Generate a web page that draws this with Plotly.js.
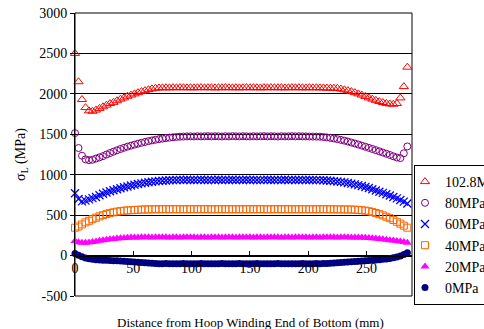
<!DOCTYPE html>
<html>
<head>
<meta charset="utf-8">
<script src="https://cdn.plot.ly/plotly-3.0.1.min.js"></script>
<style>html,body{margin:0;padding:0;background:#fff;}</style>
</head>
<body>
<div id="chart" style="width:484px;height:329px;"></div>
<script>
// Distance from hoop winding end of bottom (mm)
const distance = [0,3,6,9,12,15,18,21,24,27,30,33,36,39,42,45,48,51,54,57,60,63,66,69,72,75,78,81,84,87,90,93,96,99,102,105,108,111,114,117,120,123,126,129,132,135,138,141,144,147,150,153,156,159,162,165,168,171,174,177,180,183,186,189,192,195,198,201,204,207,210,213,216,219,222,225,228,231,234,237,240,243,246,249,252,255,258,261,264,267,270,273,276,279,282,285];

const seriesNames = ["102.8MPa","80MPa","60MPa","40MPa","20MPa","0MPa"];

const s102_8 = [2500,2150,1930,1830,1790,1785,1800,1820,1840,1860,1880,1895,1915,1935,1950,1970,1985,2000,2015,2028,2040,2052,2062,2070,2073,
2075,2076,2074,2077,2075,2078,2076,2075,2077,2074,2076,2078,2075,2077,2076,2074,2077,2075,2078,2076,
2075,2077,2074,2076,2078,2075,2077,2076,2074,2077,2075,2078,2076,2075,2077,2074,2076,2078,2075,2077,
2076,2074,2077,2075,2076,2074,2073,2072,2071,2070,
2068,2060,2050,2040,2028,2015,2000,1985,1968,1950,1935,1920,1905,1893,1882,1875,1872,1880,1950,2090,2330];

const s80 = [1515,1330,1235,1190,1180,1185,1200,1215,1230,1250,1268,1285,1302,1318,1333,1347,1360,1372,1384,1395,1405,1415,1424,1432,1440,1447,1453,1458,1463,1467,1470,
1472,1474,1475,1473,1476,1474,1475,1477,1474,1476,1475,1473,1476,1474,1477,1475,1474,1476,1475,1473,
1476,1474,1475,1477,1474,1476,1475,1473,1476,1474,1475,1477,1474,1476,1475,1474,1473,1472,1471,
1470,1466,1461,1455,1448,1440,1431,1421,1410,1398,1386,1373,1360,1346,1332,1318,1303,1289,1274,1259,1244,1228,1213,1205,1265,1350];

const s60 = [770,700,670,680,695,710,725,745,765,780,795,808,820,832,845,855,866,876,885,893,900,907,913,918,922,926,929,932,
933,935,936,934,937,935,934,936,938,935,934,936,935,937,934,936,935,938,934,936,
935,937,934,936,935,933,936,938,935,934,936,935,937,934,936,935,934,936,935,934,934,933,
933,931,928,925,921,916,911,905,898,890,881,871,860,848,835,820,805,790,775,759,742,725,707,688,667,645];

const s40 = [345,360,385,410,430,450,468,485,500,513,525,535,543,550,555,558,561,564,566,568,570,
571,572,573,572,574,573,572,573,574,572,573,572,574,573,572,573,574,572,573,572,
574,573,572,573,574,572,573,572,574,573,572,573,574,572,573,572,574,573,572,573,
574,572,573,572,574,573,572,573,572,574,573,572,573,572,571,571,570,
570,569,567,565,561,556,548,538,526,512,497,480,462,440,418,395,370,345];

const s20 = [180,165,158,158,162,168,175,182,190,196,201,206,210,214,217,220,222,224,
225,226,227,226,225,227,226,228,226,225,227,226,225,227,226,228,226,225,227,226,
225,227,226,228,225,226,227,226,225,227,226,228,226,225,227,226,225,227,226,228,
226,225,227,226,225,227,226,228,226,225,227,226,225,227,226,228,226,225,227,226,226,225,
225,224,222,220,217,214,210,206,201,196,191,186,180,174,167,158];

const s0 = [25,5,-15,-30,-40,-47,-52,-55,-57,-59,-61,-63,-65,-67,-69,-72,-75,-78,-82,-86,-90,-93,-96,-98,
-100,-101,-99,-100,-102,-100,-101,-99,-100,-102,-101,-100,-99,-101,-100,-102,-100,-101,-99,-100,
-102,-100,-101,-99,-100,-101,-102,-100,-99,-101,-100,-102,-100,-101,-99,-100,-101,-100,-102,-100,
-101,-99,-100,-101,-100,-99,-100,-99,
-98,-95,-92,-89,-86,-83,-80,-77,-74,-71,-68,-65,-62,-59,-55,-51,-46,-41,-35,-28,-18,-5,12,35];

const xTickVals = [0,50,100,150,200,250];
const xTickLabels = ["0","50","100","150","200","250"];
const yTickVals = [-500,0,500,1000,1500,2000,2500,3000];
const yTickLabels = ["-500","0","500","1000","1500","2000","2500","3000"];

const FONT = "Liberation Serif";

const styles = [
  {symbol:"triangle-up-open", color:"#FF0000", size:8, lw:1},
  {symbol:"circle-open", color:"#800080", size:7, lw:1},
  {symbol:"x-thin-open", color:"#0000FF", size:8, lw:1.3},
  {symbol:"square-open", color:"#FF6600", size:7, lw:1},
  {symbol:"triangle-up", color:"#FF00FF", size:8, lw:0},
  {symbol:"circle", color:"#000080", size:7, lw:0}
];
const values = [s102_8, s80, s60, s40, s20, s0];

const traces = values.map((v, k) => ({
  x: distance, y: v, name: seriesNames[k], type: "scatter", mode: "markers",
  cliponaxis: false, legendgroup: "g" + k,
  marker: {symbol: styles[k].symbol, color: styles[k].color, size: styles[k].size,
           line: {color: styles[k].color, width: styles[k].lw}}
}));

const layout = {
  width: 484, height: 329,
  margin: {l: 75, r: 72, t: 13, b: 33},
  paper_bgcolor: "#fff", plot_bgcolor: "#fff",
  font: {family: FONT, size: 14, color: "#000"},
  showlegend: true,
  xaxis: {
    range: [0, 289], anchor: "free", position: 500/3500,
    tickmode: "array", tickvals: xTickVals, ticktext: xTickLabels,
    ticks: "inside", ticklen: 5, tickcolor: "#000", tickwidth: 1,
    showline: true, linecolor: "#000", linewidth: 1,
    showgrid: false, zeroline: false, automargin: false,
    tickfont: {family: FONT, size: 14, color: "#000"}
  },
  yaxis: {
    range: [-500, 3000], automargin: false,
    tickmode: "array", tickvals: yTickVals, ticktext: yTickLabels,
    ticks: "outside", ticklen: 4, tickcolor: "#000",
    showline: true, linecolor: "#000", linewidth: 1,
    showgrid: true, gridcolor: "#000", gridwidth: 1, zeroline: false,
    tickfont: {family: FONT, size: 14, color: "#000"},
    title: {text: "σ<sub>L</sub> (MPa)", font: {family: FONT, size: 14, color: "#000"}, standoff: 10}
  },
  legend: {
    xref: "container", yref: "container",
    x: 414/484, xanchor: "left", y: 1 - 165/329, yanchor: "top",
    bgcolor: "#fff", bordercolor: "#000", borderwidth: 1,
    font: {family: FONT, size: 14, color: "#000"},
    indentation: -10, tracegroupgap: 0
  },
  shapes: [{type: "rect", xref: "paper", yref: "paper", x0: 0, x1: 1, y0: 0, y1: 1,
            line: {color: "#000", width: 1}, layer: "below"}],
  annotations: [{
    text: "Distance from Hoop Winding End of Bottom (mm)",
    xref: "paper", yref: "paper", x: 0.522, y: -0.092,
    xanchor: "center", yanchor: "middle", showarrow: false,
    font: {family: FONT, size: 13, color: "#000"}
  }]
};

Plotly.newPlot("chart", traces, layout, {displayModeBar: false, staticPlot: true});
</script>
</body>
</html>
